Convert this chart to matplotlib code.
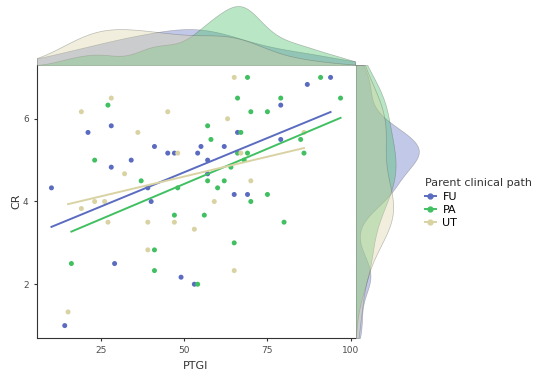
import numpy as np
import matplotlib.pyplot as plt
from matplotlib.lines import Line2D

# data (PTGI vs CR, by parent clinical path)
groups = ["FU", "PA", "UT"]
colors = {"FU": "#5b6cc0", "PA": "#41c062", "UT": "#d9d3a3"}

fu_x = [21, 28, 41, 45, 47, 54, 34, 28, 10, 39, 94, 87, 79, 66, 79, 55, 62,
        57, 57, 65, 69, 40, 29, 49, 53, 14]
fu_y = [5.67, 5.83, 5.33, 5.17, 5.17, 5.17, 5.0, 4.83, 4.33, 4.33, 7.0, 6.83,
        6.33, 5.67, 5.5, 5.33, 5.33, 5.0, 4.67, 4.17, 4.17, 4.0, 2.5, 2.17,
        2.0, 1.0]

pa_x = [27, 23, 37, 48, 69, 91, 66, 79, 97, 70, 75, 57, 67, 58, 85, 66, 69,
        86, 68, 64, 57, 62, 60, 75, 70, 47, 56, 80, 65, 41, 16, 41, 54]
pa_y = [6.33, 5.0, 4.5, 4.33, 7.0, 7.0, 6.5, 6.5, 6.5, 6.17, 6.17, 5.83, 5.67,
        5.5, 5.5, 5.17, 5.17, 5.17, 5.0, 4.83, 4.5, 4.5, 4.33, 4.17, 4.0,
        3.67, 3.67, 3.5, 3.0, 2.83, 2.5, 2.33, 2.0]

ut_x = [28, 19, 45, 36, 48, 32, 65, 63, 86, 67, 70, 23, 26, 19, 27, 39, 47,
        53, 39, 15, 59, 65]
ut_y = [6.5, 6.17, 6.17, 5.67, 5.17, 4.67, 7.0, 6.0, 5.67, 5.17, 4.5, 4.0,
        4.0, 3.83, 3.5, 3.5, 3.5, 3.33, 2.83, 1.33, 4.0, 2.33]

data = {"FU": (fu_x, fu_y), "PA": (pa_x, pa_y), "UT": (ut_x, ut_y)}


def kde(v, grid):
    # gaussian kde with R's bw.nrd0
    v = np.asarray(v, float)
    n = len(v)
    sd = v.std(ddof=1)
    q75, q25 = np.percentile(v, [75, 25])
    bw = 0.9 * min(sd, (q75 - q25) / 1.34) * n ** -0.2
    z = (grid[:, None] - v[None, :]) / bw
    return np.exp(-0.5 * z ** 2).sum(1) / (n * bw * np.sqrt(2 * np.pi))


all_x = np.concatenate([data[g][0] for g in groups])
all_y = np.concatenate([data[g][1] for g in groups])
xr = all_x.max() - all_x.min()
yr = all_y.max() - all_y.min()
xlim = (all_x.min() - 0.05 * xr, all_x.max() + 0.05 * xr)
ylim = (all_y.min() - 0.05 * yr, all_y.max() + 0.05 * yr)

W, H = 542, 380
fig = plt.figure(figsize=(W / 100, H / 100), dpi=100)
ax = fig.add_axes([37 / W, 1 - 338 / H, 318 / W, 273 / H])
axt = fig.add_axes([37 / W, 1 - 65 / H, 318 / W, 62 / H])
axr = fig.add_axes([356 / W, 1 - 338 / H, 66 / W, 273 / H])

for g in groups:
    x, y = data[g]
    ax.scatter(x, y, s=13, color=colors[g], edgecolors="none", zorder=3)
    k, b = np.polyfit(x, y, 1)
    xs = np.array([min(x), max(x)])
    ax.plot(xs, k * xs + b, color=colors[g], lw=1.4, zorder=4)

ax.set_xlim(xlim)
ax.set_ylim(ylim)
ax.set_xticks([25, 50, 75, 100])
ax.set_yticks([2, 4, 6])
for s in ["top", "right"]:
    ax.spines[s].set_visible(False)
for s in ["left", "bottom"]:
    ax.spines[s].set_color("#333333")
    ax.spines[s].set_linewidth(0.8)
ax.tick_params(colors="#333333", labelcolor="#4d4d4d", labelsize=6.5,
               length=2.5, width=0.8)
ax.set_xlabel("PTGI", fontsize=8, color="#333333", labelpad=4)
ax.set_ylabel("CR", fontsize=8, color="#333333", labelpad=1)

# marginal densities
gx = np.linspace(xlim[0], xlim[1], 300)
gy = np.linspace(ylim[0], ylim[1], 300)
dx = {g: kde(data[g][0], gx) for g in groups}
dy = {g: kde(data[g][1], gy) for g in groups}

for g in groups:
    axt.fill_between(gx, 0, dx[g], facecolor=colors[g], alpha=0.37,
                     edgecolor="#555555", linewidth=0.5)
    axr.fill_betweenx(gy, 0, dy[g], facecolor=colors[g], alpha=0.37,
                      edgecolor="#555555", linewidth=0.5)

mx = max(d.max() for d in dx.values())
lo_x = min(d.min() for d in dx.values()) * 0.9
axt.set_xlim(xlim)
axt.set_ylim(lo_x, mx * 1.05)
my = max(d.max() for d in dy.values())
lo_y = min(d.min() for d in dy.values()) * 0.9
axr.set_ylim(ylim)
axr.set_xlim(lo_y, my * 1.05)
for a in (axt, axr):
    a.axis("off")

handles = [Line2D([], [], color=colors[g], marker="o", markersize=3.5, lw=1.4)
           for g in groups]
leg = fig.legend(handles, groups, title="Parent clinical path",
                 loc="center left", bbox_to_anchor=(0.765, 0.465),
                 frameon=False, fontsize=8, title_fontsize=8,
                 handlelength=1.0, handletextpad=0.6, labelspacing=0.3)
leg._legend_box.align = "left"
leg.get_title().set_color("#333333")

fig.savefig("out.png", dpi=100, facecolor="white")
